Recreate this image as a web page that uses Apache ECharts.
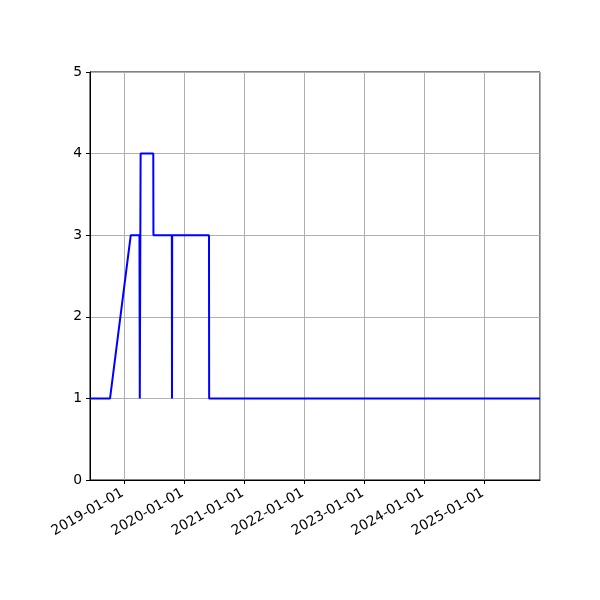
<!DOCTYPE html>
<html>
<head>
<meta charset="utf-8">
<script src="https://cdn.jsdelivr.net/npm/echarts@6/dist/echarts.min.js"></script>
<style>
  html, body { margin: 0; padding: 0; background: #fff; }
  #chart { width: 600px; height: 600px; }
</style>
</head>
<body>
<div id="chart"></div>
<script>
// 日期与数值
var dates = ['2018-06-06', '2018-10-06', '2019-02-09', '2019-04-03', '2019-04-05',
             '2019-04-10', '2019-06-26', '2019-06-27', '2019-10-17', '2019-10-18',
             '2019-10-19', '2020-05-30', '2020-05-31', '2025-12-04'];
var values = [1, 1, 3, 3, 1, 4, 4, 3, 3, 1, 3, 3, 1, 1];
var yTicks = [0, 1, 2, 3, 4, 5];

var DAY = 24 * 3600 * 1000;
var chart = echarts.init(document.getElementById('chart'));

var option = {
    animation: false,
    grid: {
        left: 90, right: 60, top: 72, bottom: 120,
        show: true, borderColor: '#000', borderWidth: 1
    },
    xAxis: {
        type: 'time',
        min: dates[0],
        max: dates[dates.length - 1],
        minInterval: 365 * DAY,
        maxInterval: 366 * DAY,
        axisLine: { show: true, lineStyle: { color: '#000' } },
        axisTick: { show: true, length: 4, lineStyle: { color: '#000' } },
        axisLabel: {
            rotate: 30,
            color: '#000',
            fontFamily: 'DejaVu Sans',
            fontSize: 13.9,
            margin: 11,
            padding: [0, 2, 0, 0],
            formatter: '{yyyy}-{MM}-{dd}',
            showMinLabel: false,
            showMaxLabel: false
        },
        splitLine: { show: true, lineStyle: { color: '#b0b0b0', width: 1 } }
    },
    yAxis: {
        type: 'value',
        min: yTicks[0],
        max: yTicks[yTicks.length - 1],
        interval: 1,
        axisLine: { show: true, lineStyle: { color: '#000' } },
        axisTick: { show: true, length: 4, lineStyle: { color: '#000' } },
        axisLabel: { color: '#000', fontFamily: 'DejaVu Sans', fontSize: 13.9, margin: 8 },
        splitLine: { show: true, lineStyle: { color: '#b0b0b0', width: 1 } }
    },
    series: [{
        type: 'line',
        data: dates.map(function (d, i) { return [d, values[i]]; }),
        showSymbol: false,
        symbol: 'none',
        lineStyle: { color: '#0000ff', width: 2 }
    }]
};
chart.setOption(option);
</script>
</body>
</html>
